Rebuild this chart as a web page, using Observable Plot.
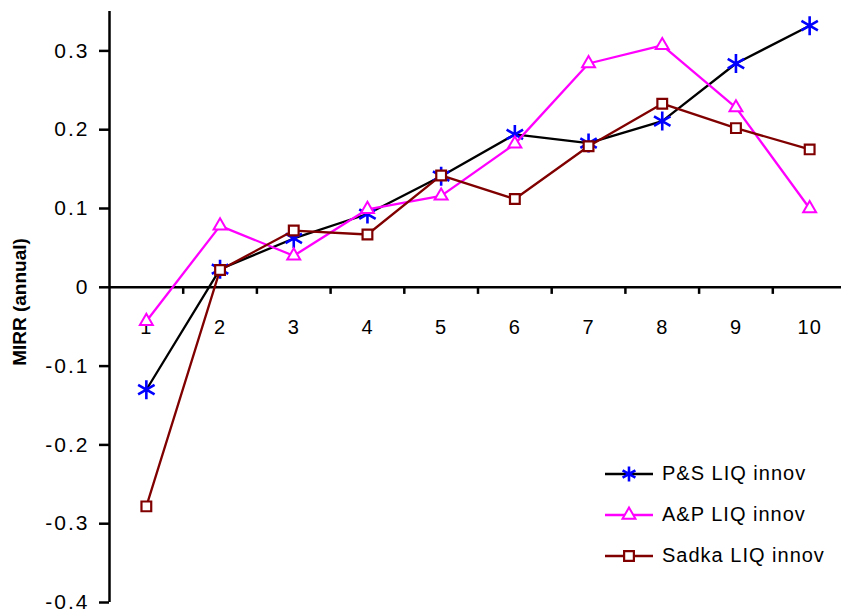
<!DOCTYPE html>
<html>
<head>
<meta charset="utf-8">
<script src="https://cdn.jsdelivr.net/npm/d3@7"></script>
<script src="https://cdn.jsdelivr.net/npm/@observablehq/plot@0.6"></script>
<style>
  html, body { margin: 0; padding: 0; background: #fff; }
  #wrap { position: relative; width: 841px; height: 613px; overflow: hidden; font-family: "Liberation Sans", Arial, sans-serif; }
  #ylabel { position: absolute; left: 20px; top: 302px; transform: translate(-50%, -50%) rotate(-90deg); font-weight: bold; font-size: 19px; white-space: nowrap; color: #000; }
  #legend { position: absolute; left: 601px; top: 453px; font-size: 20px; letter-spacing: 1px; color: #000; }
  #legend .row { display: flex; align-items: center; height: 41px; }
  #legend .row span { margin-left: 5px; }
</style>
</head>
<body>
<div id="wrap"></div>
<script>
const categories = [1, 2, 3, 4, 5, 6, 7, 8, 9, 10];
const psLiq    = [-0.130, 0.023, 0.062, 0.093, 0.141, 0.194, 0.183, 0.211, 0.284, 0.332];
const apLiq    = [-0.043, 0.078, 0.040, 0.099, 0.116, 0.182, 0.284, 0.307, 0.228, 0.100];
const sadkaLiq = [-0.278, 0.022, 0.072, 0.067, 0.142, 0.112, 0.179, 0.233, 0.202, 0.175];
const seriesNames = ["P&S LIQ innov", "A&P LIQ innov", "Sadka LIQ innov"];
const yTicks = [-0.4, -0.3, -0.2, -0.1, 0, 0.1, 0.2, 0.3];
const yLabel = "MIRR (annual)";

const series = [
  {name: seriesNames[0], values: psLiq, line: "#000000", marker: "#0000ff", symbol: "asterisk", r: 9, legendR: 7, fill: "none", sw: 2.6},
  {name: seriesNames[1], values: apLiq, line: "#ff00ff", marker: "#ff00ff", symbol: "triangle", r: 4.8, legendR: 4.8, fill: "white", sw: 2},
  {name: seriesNames[2], values: sadkaLiq, line: "#800000", marker: "#800000", symbol: "square", r: 5.5, legendR: 5.5, fill: "white", sw: 2.2}
];

const xDomain = [categories[0] - 0.5, categories[categories.length - 1] + 0.5];
const yDomain = [-0.4, 0.35];
const boundaries = categories.slice(1).map(c => c - 0.5);

const marks = [
  Plot.axisY({
    ticks: yTicks, tickSize: 10, tickPadding: 10, strokeWidth: 2.5,
    tickFormat: d => d === 0 ? "0" : d.toFixed(1), label: null, fontSize: 21
  }),
  Plot.ruleX([xDomain[0]], {y1: yDomain[0], y2: yDomain[1], strokeWidth: 2.5}),
  Plot.ruleY([0], {strokeWidth: 2.5}),
  Plot.ruleX(boundaries, {y1: 0, y2: -0.009, strokeWidth: 2.5}),
  Plot.text(categories, {x: d => d, y: 0, dy: 40, text: d => String(d), fontSize: 20})
];

for (const s of series) {
  const data = categories.map((c, i) => ({x: c, y: s.values[i]}));
  marks.push(Plot.line(data, {x: "x", y: "y", stroke: s.line, strokeWidth: 2.3}));
  marks.push(Plot.dot(data, {x: "x", y: "y", symbol: () => s.symbol, r: s.r, stroke: s.marker, fill: s.fill, strokeWidth: s.sw}));
}

const chart = Plot.plot({
  width: 841, height: 613,
  marginLeft: 109, marginRight: 0, marginTop: 11, marginBottom: 11,
  style: {fontFamily: "'Liberation Sans', Arial, sans-serif", fontSize: "20px", background: "white", letterSpacing: "1px", color: "#000"},
  x: {domain: xDomain, range: [109, 846], axis: null},
  y: {domain: yDomain, axis: null},
  symbol: {type: "identity"},
  marks
});

d3.select(chart).selectAll('g[aria-label="y-axis tick label"] text').style("letter-spacing", "2px");

const wrap = document.getElementById("wrap");
wrap.appendChild(chart);

const yl = document.createElement("div");
yl.id = "ylabel";
yl.textContent = yLabel;
wrap.appendChild(yl);

const legend = d3.select(wrap).append("div").attr("id", "legend");
const symMap = {asterisk: d3.symbolAsterisk, triangle: d3.symbolTriangle, square: d3.symbolSquare};
for (const s of series) {
  const row = legend.append("div").attr("class", "row");
  const svg = row.append("svg").attr("width", 56).attr("height", 22);
  svg.append("line").attr("x1", 4).attr("x2", 52).attr("y1", 11).attr("y2", 11)
    .attr("stroke", s.line).attr("stroke-width", 2.5);
  svg.append("path")
    .attr("transform", "translate(28,11)")
    .attr("d", d3.symbol(symMap[s.symbol], Math.PI * s.legendR * s.legendR)())
    .attr("stroke", s.marker).attr("stroke-width", s.sw)
    .attr("fill", s.fill);
  row.append("span").text(s.name);
}
</script>
</body>
</html>
